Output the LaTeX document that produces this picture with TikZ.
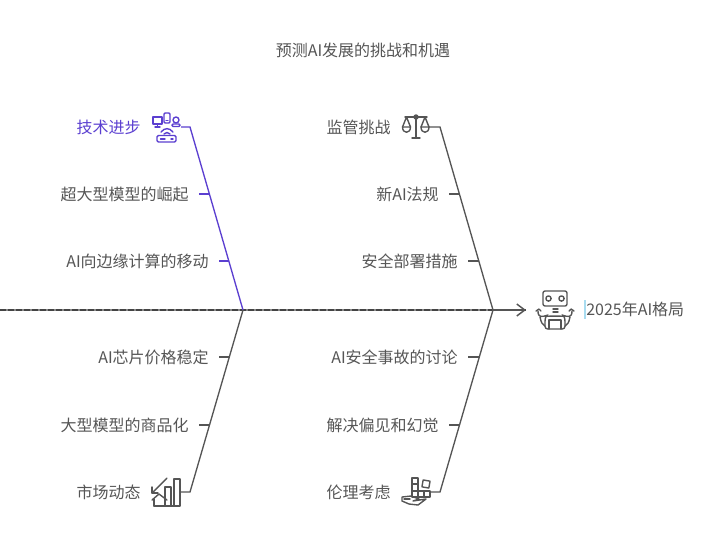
\documentclass[tikz,border=0pt]{standalone}
\usepackage{fontspec}
\usetikzlibrary{arrows.meta}
\setmainfont{Noto Sans CJK SC}
\definecolor{bonegray}{HTML}{555555}
\definecolor{techblue}{HTML}{5B3FD0}
\definecolor{textgray}{HTML}{555555}
\definecolor{cursorblue}{HTML}{A8DCF0}
\tikzset{
  causetext/.style={anchor=east, inner xsep=7.5pt, inner ysep=0pt, text=textgray, font=\fontsize{12pt}{14pt}\selectfont},
  bone/.style={draw=bonegray, line width=1pt},
  spineback/.style={draw=bonegray!70, line width=1.1pt},
  spinedash/.style={draw=bonegray!80!black, line width=1.1pt, dash pattern=on 4.5pt off 1.5pt},
  techbone/.style={draw=techblue, line width=1pt},
  iconline/.style={draw=bonegray, line width=1.05pt, line join=round, line cap=round},
  techicon/.style={draw=techblue, line width=1.05pt, line join=round, line cap=round}
}
\begin{document}
\begin{tikzpicture}[x=0.75pt, y=-0.75pt]
    \useasboundingbox (0,0) rectangle (722,537);

    % --- Title ---
    \node[text=textgray, font=\fontsize{12pt}{14pt}\selectfont, inner sep=0pt] (title) at (363,50) {预测AI发展的挑战和机遇};

    % --- Spine ---
    \coordinate (tail) at (0,310);
    \coordinate (head) at (526,310);
    \coordinate (joinL) at (243,310);
    \coordinate (joinR) at (493,310);
    \draw[spineback] (tail) -- (joinL) -- (joinR) -- (head);
    \draw[spinedash] (tail) -- (joinL) -- (joinR) -- (head);
    \draw[bone, line width=1.1pt, -{Straight Barb[length=6pt,width=9pt]}] (joinR) -- (head);

    % --- Bone corners ---
    \coordinate (cornerLT) at (190,127);
    \coordinate (cornerLB) at (190,492);
    \coordinate (cornerRT) at (440,127);
    \coordinate (cornerRB) at (440,492);
    \coordinate (stubLT) at (181,127);
    \coordinate (stubLB) at (180,492);
    \coordinate (stubRT) at (429,127);
    \coordinate (stubRB) at (430,492);

    % --- Upper left: tech ---
    \node[causetext, inner xsep=0pt, text=techblue] (tech) at (141,127) {技术进步};
    \node[causetext] (giant) at (199,194) {超大型模型的崛起};
    \node[causetext] (edge) at (219,261) {AI向边缘计算的移动};
    \coordinate (giantEnd) at (209.4,194);
    \coordinate (edgeEnd) at (228.8,261);
    \draw[techbone] (stubLT) -- (cornerLT) -- (joinL);
    \draw[techbone] (giant.east) -- (giantEnd);
    \draw[techbone] (edge.east) -- (edgeEnd);

    % --- Lower left: market ---
    \node[causetext, inner xsep=0pt] (market) at (141,492) {市场动态};
    \node[causetext] (commodity) at (199,425) {大型模型的商品化};
    \node[causetext] (chip) at (219,357) {AI芯片价格稳定};
    \coordinate (commodityEnd) at (209.4,425);
    \coordinate (chipEnd) at (229.4,357);
    \draw[bone] (stubLB) -- (cornerLB) -- (joinL);
    \draw[bone] (commodity.east) -- (commodityEnd);
    \draw[bone] (chip.east) -- (chipEnd);

    % --- Upper right: regulation ---
    \node[causetext, inner xsep=0pt] (reg) at (391,127) {监管挑战};
    \node[causetext] (law) at (449,194) {新AI法规};
    \node[causetext] (safe) at (468,261) {安全部署措施};
    \coordinate (lawEnd) at (459.4,194);
    \coordinate (safeEnd) at (478.8,261);
    \draw[bone] (stubRT) -- (cornerRT) -- (joinR);
    \draw[bone] (law.east) -- (lawEnd);
    \draw[bone] (safe.east) -- (safeEnd);

    % --- Lower right: ethics ---
    \node[causetext, inner xsep=0pt] (ethics) at (391,492) {伦理考虑};
    \node[causetext] (bias) at (449,425) {解决偏见和幻觉};
    \node[causetext] (incident) at (468,357) {AI安全事故的讨论};
    \coordinate (biasEnd) at (459.4,425);
    \coordinate (incidentEnd) at (479.4,357);
    \draw[bone] (stubRB) -- (cornerRB) -- (joinR);
    \draw[bone] (bias.east) -- (biasEnd);
    \draw[bone] (incident.east) -- (incidentEnd);

    % --- Effect ---
    \node[causetext, anchor=west, inner xsep=0pt] (effect) at (586,309) {2025年AI格局};
    \draw[cursorblue, line width=0.8pt] (585,300) -- (585,319);

    % Icon: devices and router
    \draw[techicon] (153,117) rectangle (162,124);
    \draw[techicon] (157.5,124) -- (157.5,127) (155,127) -- (160,127);
    \draw[techicon, rounded corners=0.8pt] (164,113) rectangle (170,123);
    \draw[techicon] (166,120.5) -- (168,120.5);
    \draw[techicon, rounded corners=0.8pt] (172,124) rectangle (180,126.5);
    \draw[techicon] (176,120) circle (3);
    \draw[techicon, rounded corners=1pt] (157,135.5) rectangle (176,142);
    \draw[techicon] (161,132) .. controls (165,127.5) and (169,127.5) .. (173,132);
    \draw[techicon] (164,134) .. controls (165.5,132) and (168.5,132) .. (170,134);
    \draw[techicon] (160.5,139) -- (165,139) (171,139) -- (173,139);

    % Icon: scales
    \draw[iconline] (405,117) -- (427,117);
    \draw[iconline] (416,119) -- (416,138) (412,138) -- (420,138);
    \draw[iconline] (416,117) circle (2);
    \draw[iconline] (402.5,127) -- (406.5,117) -- (410.5,127);
    \draw[iconline] (402.5,127) .. controls (402.5,134) and (410.5,134) .. (410.5,127) -- cycle;
    \draw[iconline] (421,127) -- (425,117) -- (429,127);
    \draw[iconline] (421,127) .. controls (421,134) and (429,134) .. (429,127) -- cycle;

    % Icon: chart with house and arrow
    \draw[iconline] (167,478) -- (152,493);
    \draw[iconline] (152,487) -- (152,493) -- (158,493);
    \draw[iconline] (165,506) -- (165,487) -- (171,487) -- (171,506);
    \draw[iconline] (174,506) -- (174,479) -- (180,479) -- (180,506) -- (154,506);
    \draw[iconline] (152,500) -- (159,494) -- (167,500);
    \draw[iconline] (154,499) -- (154,506);

    % Icon: blocks on a hand
    \draw[iconline] (412,478) rectangle (418,484);
    \draw[iconline] (412,484) rectangle (418,491);
    \draw[iconline] (412,491) rectangle (418,497);
    \draw[iconline] (418,491) rectangle (424,497);
    \draw[iconline] (424,491) rectangle (430,497);
    \draw[iconline, rotate around={-10:(426,484)}] (422.5,480.5) rectangle (429.5,487.5);
    \draw[iconline] (402,497) -- (411,496) -- (419,499) -- (413,501) -- (426,499) -- (418,505) -- (409,504) -- (402,501) -- cycle;
    \draw[iconline] (404,499) -- (410,499);

    % Icon: robot
    \draw[iconline, rounded corners=1.5pt] (543,291) rectangle (567,306);
    \draw[iconline] (548.5,298.5) circle (2.6) (561.5,298.5) circle (2.6);
    \draw[iconline] (553,309) -- (558,309) (553,312) -- (558,312);
    \draw[iconline, rounded corners=2pt] (545,329) -- (545,319) .. controls (546,316) and (564,316) .. (565,319) -- (565,329) -- cycle;
    \draw[iconline] (549,329) -- (549,320) -- (561,320) -- (561,329);
    \draw[iconline] (538,311) .. controls (538,318) and (542,317) .. (548,315);
    \draw[iconline] (572,311) .. controls (572,318) and (568,317) .. (562,315);
    \draw[iconline] (536,311) -- (539,309) (541,311) -- (539,309);
    \draw[iconline] (574,311) -- (571,309) (569,311) -- (571,309);
    \draw[iconline] (540,317) .. controls (541,323) and (543,325) .. (545,326);
    \draw[iconline] (570,317) .. controls (569,323) and (567,325) .. (565,326);
\end{tikzpicture}
\end{document}
